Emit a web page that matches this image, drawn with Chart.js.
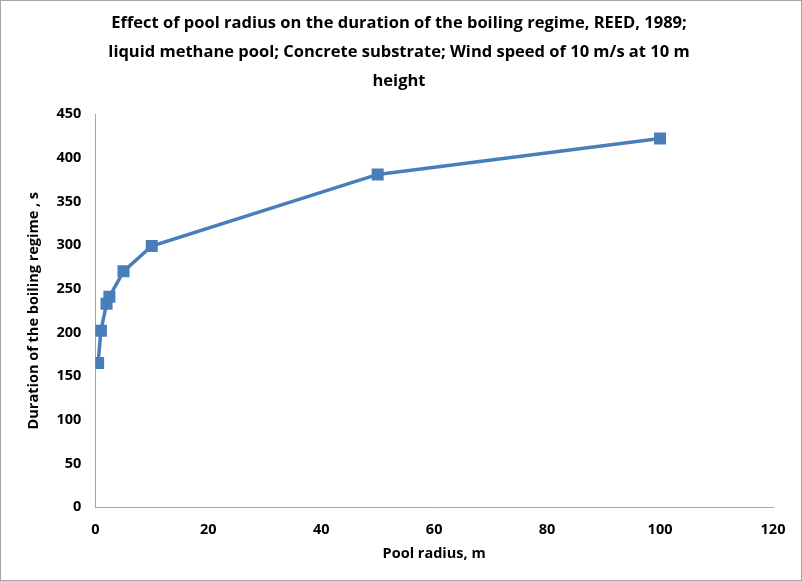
<!DOCTYPE html>
<html>
<head>
<meta charset="utf-8">
<script src="https://cdn.jsdelivr.net/npm/chart.js@4/dist/chart.umd.min.js"></script>
<style>
  html, body { margin: 0; padding: 0; background: #fff; }
  #wrap { position: absolute; left: 0; top: 0; width: 800px; height: 579px; border: 1px solid #a6a6a6; }
  canvas { display: block; }
</style>
</head>
<body>
<div id="wrap"><canvas id="c" width="800" height="579"></canvas></div>
<script>
// Pool radius (m) and duration of the boiling regime (s)
const poolRadius = [0.5, 1, 2, 2.5, 5, 10, 50, 100];
const boilingDuration = [165, 202, 233, 241, 270, 299, 381, 422];

const titleLines = [
  'Effect of pool radius on the duration of the boiling regime, REED, 1989;',
  'liquid methane pool; Concrete substrate; Wind speed of 10 m/s at 10 m',
  'height'
];
const xAxisTitle = 'Pool radius, m';
const yAxisTitle = 'Duration of the boiling regime , s';

const FONT = '"Open Sans", Arial, sans-serif';
const BLUE = '#4A7EBB';

const points = poolRadius.map((r, i) => ({ x: r, y: boilingDuration[i] }));

new Chart(document.getElementById('c'), {
  type: 'scatter',
  data: {
    datasets: [{
      data: points,
      showLine: true,
      borderColor: BLUE,
      backgroundColor: BLUE,
      borderWidth: 3.5,
      pointStyle: 'rect',
      pointRadius: 8.5,
      pointHoverRadius: 8.5,
      pointBorderWidth: 0,
      tension: 0
    }]
  },
  options: {
    responsive: false,
    animation: false,
    layout: { padding: { left: 24, right: 28, top: 4, bottom: 17 } },
    plugins: {
      legend: { display: false },
      tooltip: { enabled: false },
      title: {
        display: true,
        text: titleLines,
        color: '#000',
        font: { family: FONT, size: 16.5, weight: 'bold', lineHeight: 1.76 },
        padding: { top: 4, bottom: 18 }
      }
    },
    scales: {
      x: {
        type: 'linear',
        min: 0, max: 120,
        ticks: { stepSize: 20, color: '#000', font: { family: FONT, size: 14.5, weight: 'bold' }, padding: 14 },
        grid: { display: false, drawTicks: false },
        border: { color: '#a6a6a6', width: 1 },
        title: { display: true, text: xAxisTitle, color: '#000', font: { family: FONT, size: 14.5, weight: 'bold' }, padding: { top: -7, bottom: 0 } }
      },
      y: {
        type: 'linear',
        min: 0, max: 450,
        ticks: { stepSize: 50, color: '#000', font: { family: FONT, size: 14.5, weight: 'bold' }, padding: 14 },
        grid: { display: false, drawTicks: false },
        border: { color: '#a6a6a6', width: 1 },
        title: { display: true, text: yAxisTitle, color: '#000', font: { family: FONT, size: 14.5, weight: 'bold' }, padding: { top: 0, bottom: 0 } }
      }
    }
  }
});
</script>
</body>
</html>
